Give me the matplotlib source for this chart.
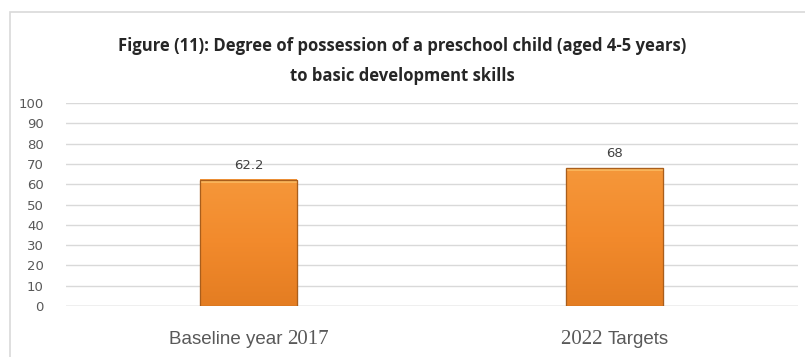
import numpy as np
import matplotlib
matplotlib.use("Agg")
import matplotlib.pyplot as plt
from matplotlib.patches import Rectangle
from matplotlib.colors import LinearSegmentedColormap

# données du graphique
categories_mot = ["Baseline year", "Targets"]
categories_annee = ["2017", "2022"]
valeurs = [62.2, 68]
etiquettes = ["62.2", "68"]
graduations = list(range(0, 101, 10))

titre = ("Figure (11): Degree of possession of a preschool child (aged 4-5 years)\n"
         "to basic development skills")

fig = plt.figure(figsize=(8.05, 3.57), dpi=100)
ax = fig.add_axes([0.082, 0.143, 0.909, 0.568])

# cadre gris autour du graphique
fig.patches.append(Rectangle((10 / 805, -0.05), 1.0, 1 - 12 / 357 + 0.05,
                             transform=fig.transFigure, fill=False,
                             edgecolor="#D9D9D9", linewidth=1.2))

x = np.arange(len(valeurs))
largeur = 0.265
barres = ax.bar(x, valeurs, width=largeur, color="#F28C2E",
                edgecolor="#B4661E", linewidth=0.8, zorder=3)

# dégradé orange dans chaque barre
degrade = LinearSegmentedColormap.from_list("orange", ["#E47D22", "#F28A2C", "#F5973A"])
for b in barres:
    x0, w, h = b.get_x(), b.get_width(), b.get_height()
    grad = np.linspace(0, 1, 100).reshape(-1, 1)
    ax.imshow(grad, cmap=degrade, origin="lower", aspect="auto",
              extent=(x0, x0 + w, 0, h), zorder=3.5)
    ax.add_patch(Rectangle((x0, 0), w, h, fill=False, edgecolor="#A95E1C",
                           linewidth=0.9, zorder=4))
    ax.add_patch(Rectangle((x0, h - 1.6), w, 1.6, color="#F9B45A",
                           linewidth=0, zorder=3.8))

for xi, v, lab in zip(x, valeurs, etiquettes):
    ax.text(xi, v + 4, lab, ha="center", va="bottom", fontsize=9.5,
            color="#404040", family="DejaVu Sans")

ax.set_xlim(-0.5, len(valeurs) - 0.5)
ax.set_ylim(0, 100)
ax.set_yticks(graduations)
ax.set_yticklabels([str(g) for g in graduations], fontsize=9.5, color="#595959",
                   family="DejaVu Sans")
ax.tick_params(axis="y", length=0, pad=16)
ax.set_xticks([])
ax.yaxis.grid(True, color="#D9D9D9", linewidth=1, zorder=0)
for s in ax.spines.values():
    s.set_visible(False)
ax.axhline(0, color="#D0D0D0", linewidth=1, zorder=2)

fig.text(0.5, 1 - 61 / 357, titre, ha="center", va="center", fontsize=12,
         fontweight="bold", color="#262626", family="Open Sans",
         linespacing=1.85)

# étiquettes des catégories : mots en sans-serif, années en serif
fig.canvas.draw()
rend = fig.canvas.get_renderer()
y_lab = 1 - 339 / 357
for i in range(len(valeurs)):
    xc = ax.transData.transform((x[i], 0))[0] / fig.bbox.width
    if i == 0:
        morceaux = [(categories_mot[i] + " ", "Liberation Sans", 13.5),
                    (categories_annee[i], "Liberation Serif", 15)]
    else:
        morceaux = [(categories_annee[i] + " ", "Liberation Serif", 15),
                    (categories_mot[i], "Liberation Sans", 13.5)]
    textes = [fig.text(0, y_lab, t, fontsize=fs, color="#595959", family=f, va="center")
              for t, f, fs in morceaux]
    larg = [t.get_window_extent(rend).width / fig.bbox.width for t in textes]
    pos = xc - sum(larg) / 2
    for t, l in zip(textes, larg):
        t.set_x(pos)
        pos += l

fig.savefig("out.png", dpi=100)
